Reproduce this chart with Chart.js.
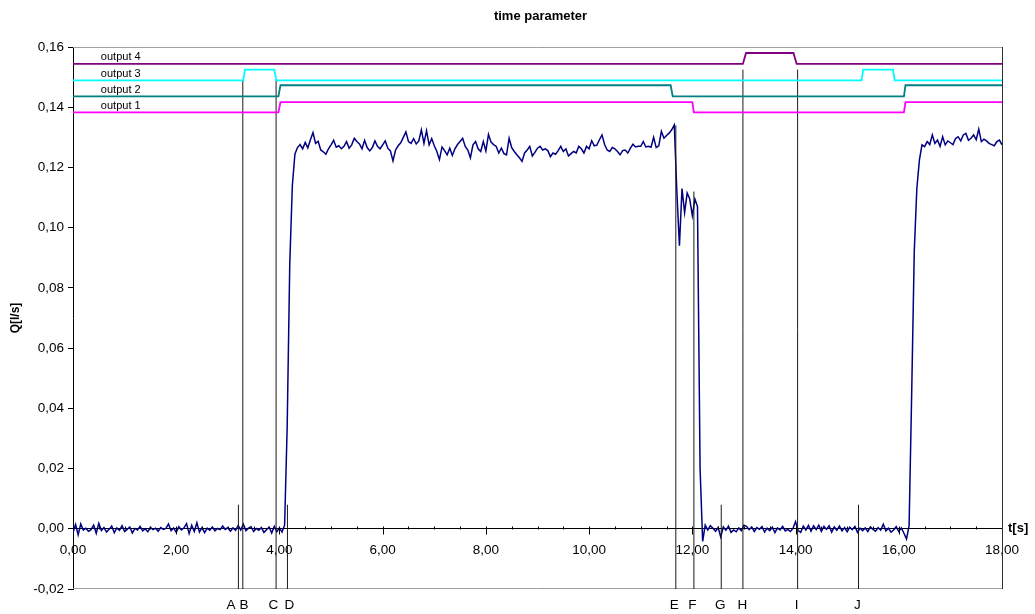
<!doctype html>
<html>

<head>
	<title>time parameter</title>
	<script src="https://cdn.jsdelivr.net/npm/chart.js@4/dist/chart.umd.min.js"></script>
	<style>
		html, body {
			margin: 0;
			padding: 0;
			background: #fff;
		}
		#holder {
			width: 1035px;
			height: 614px;
		}
	</style>
</head>

<body>
	<div id="holder">
		<canvas id="chart-area"></canvas>
	</div>
	<script>
		const FONT = '"Liberation Sans", Arial, sans-serif';

		// flow Q [l/s], sampled every DT seconds from 0 to 18 s
		const DT = 0.05;
		const qValues = [
			-0.0012, 0.0014, -0.0020, 0.0016, -0.0004, 0.0002, -0.0008, -0.0003, 0.0012, -0.0015, 0.0018, -0.0006, 0.0004, -0.0011, -0.0002, 0.0009, -0.0013, 0.0003, -0.0005, 0.0010,
			-0.0009, -0.0002, 0.0006, -0.0014, 0.0001, -0.0004, 0.0008, -0.0007, 0.0000, -0.0010, 0.0005, -0.0003, 0.0002, -0.0008, 0.0004, -0.0002, 0.0001, 0.0016, -0.0006, 0.0003,
			-0.0012, 0.0007, -0.0004, 0.0003, 0.0017, -0.0016, 0.0012, -0.0009, 0.0020, -0.0011, 0.0004, -0.0013, 0.0002, -0.0005, 0.0006, -0.0007, 0.0001, -0.0003, 0.0009, -0.0002,
			0.0004, -0.0008, 0.0003, -0.0005, 0.0011, -0.0004, 0.0015, -0.0006, 0.0002, 0.0007, -0.0009, 0.0001, -0.0005, 0.0004, -0.0012, -0.0003, 0.0006, -0.0014, 0.0008, -0.0010,
			0.0003, -0.0011, 0.0012, 0.0340, 0.0880, 0.1140, 0.1245, 0.1266, 0.1276, 0.1262, 0.1283, 0.1265, 0.1292, 0.1316, 0.1280, 0.1287, 0.1258, 0.1252, 0.1244, 0.1262,
			0.1275, 0.1290, 0.1267, 0.1272, 0.1262, 0.1270, 0.1286, 0.1264, 0.1275, 0.1297, 0.1286, 0.1278, 0.1262, 0.1290, 0.1266, 0.1255, 0.1266, 0.1288, 0.1270, 0.1262,
			0.1275, 0.1288, 0.1264, 0.1255, 0.1222, 0.1258, 0.1272, 0.1282, 0.1300, 0.1318, 0.1286, 0.1280, 0.1296, 0.1278, 0.1288, 0.1325, 0.1280, 0.1322, 0.1275, 0.1296,
			0.1272, 0.1253, 0.1226, 0.1268, 0.1256, 0.1242, 0.1264, 0.1240, 0.1262, 0.1276, 0.1286, 0.1297, 0.1270, 0.1258, 0.1232, 0.1275, 0.1286, 0.1262, 0.1253, 0.1286,
			0.1255, 0.1310, 0.1284, 0.1276, 0.1270, 0.1248, 0.1264, 0.1246, 0.1242, 0.1297, 0.1266, 0.1253, 0.1242, 0.1232, 0.1220, 0.1248, 0.1258, 0.1270, 0.1238, 0.1250,
			0.1264, 0.1270, 0.1258, 0.1262, 0.1256, 0.1236, 0.1248, 0.1244, 0.1256, 0.1270, 0.1253, 0.1262, 0.1238, 0.1246, 0.1253, 0.1248, 0.1270, 0.1262, 0.1248, 0.1270,
			0.1262, 0.1289, 0.1272, 0.1274, 0.1292, 0.1308, 0.1276, 0.1258, 0.1253, 0.1266, 0.1262, 0.1253, 0.1242, 0.1256, 0.1258, 0.1248, 0.1264, 0.1277, 0.1268, 0.1270,
			0.1270, 0.1286, 0.1268, 0.1270, 0.1267, 0.1300, 0.1266, 0.1272, 0.1320, 0.1297, 0.1306, 0.1314, 0.1325, 0.1341, 0.1120, 0.0940, 0.1130, 0.1050, 0.1115, 0.1095,
			0.1040, 0.1095, 0.1070, 0.0200, -0.0042, 0.0012, -0.0004, 0.0010, 0.0002, -0.0008, 0.0004, -0.0027, 0.0006, -0.0005, 0.0009, -0.0012, -0.0004, -0.0010, 0.0003, -0.0006,
			0.0012, 0.0008, -0.0003, 0.0006, -0.0009, 0.0004, -0.0002, 0.0007, -0.0011, 0.0002, -0.0006, 0.0005, -0.0013, 0.0003, -0.0004, 0.0008, -0.0007, -0.0002, -0.0009, 0.0001,
			0.0024, -0.0006, -0.0012, 0.0009, -0.0004, 0.0011, -0.0008, 0.0010, -0.0003, 0.0012, -0.0009, 0.0008, -0.0002, 0.0010, -0.0011, 0.0006, -0.0005, 0.0009, -0.0007, 0.0004,
			-0.0010, 0.0005, -0.0003, 0.0008, -0.0012, 0.0002, -0.0006, 0.0003, -0.0009, 0.0006, -0.0002, -0.0008, 0.0004, -0.0005, 0.0015, -0.0007, 0.0002, -0.0011, -0.0004, 0.0007,
			-0.0009, 0.0003, -0.0015, -0.0034, 0.0010, 0.0450, 0.0920, 0.1130, 0.1225, 0.1275, 0.1269, 0.1286, 0.1276, 0.1308, 0.1280, 0.1291, 0.1270, 0.1302, 0.1275, 0.1288,
			0.1282, 0.1276, 0.1296, 0.1302, 0.1288, 0.1308, 0.1313, 0.1290, 0.1297, 0.1308, 0.1292, 0.1327, 0.1286, 0.1294, 0.1288, 0.1280, 0.1276, 0.1272, 0.1286, 0.1291,
			0.1275
		];

		// digital outputs drawn as offset step traces (corner times / levels)
		const out1T = [0, 3.98, 4.02, 12.00, 12.03, 16.10, 16.13, 18];
		const out1V = [0.1383, 0.1383, 0.1417, 0.1417, 0.1383, 0.1383, 0.1417, 0.1417];
		const out2T = [0, 3.98, 4.02, 11.58, 11.62, 16.10, 16.13, 18];
		const out2V = [0.1436, 0.1436, 0.1473, 0.1473, 0.1436, 0.1436, 0.1473, 0.1473];
		const out3T = [0, 3.30, 3.33, 3.90, 3.94, 15.28, 15.31, 15.89, 15.92, 18];
		const out3V = [0.1489, 0.1489, 0.1525, 0.1525, 0.1489, 0.1489, 0.1525, 0.1525, 0.1489, 0.1489];
		const out4T = [0, 12.98, 13.04, 13.96, 14.02, 18];
		const out4V = [0.1544, 0.1544, 0.1580, 0.1580, 0.1544, 0.1544];
		const outNames = ['output 1', 'output 2', 'output 3', 'output 4'];
		const outColors = ['#ff00ff', '#008080', '#00ffff', '#800080'];

		// event markers A..J
		const markerNames = ['A', 'B', 'C', 'D', 'E', 'F', 'G', 'H', 'I', 'J'];
		const markerT = [3.205, 3.29, 3.935, 4.155, 11.68, 12.03, 12.56, 12.98, 14.04, 15.22];
		const markerTop = [0.008, 0.149, 0.149, 0.008, 0.134, 0.112, 0.008, 0.1525, 0.1525, 0.008];
		const markerLabelAt = [3.06, 3.315, 3.88, 4.19, 11.65, 12.0, 12.54, 12.97, 14.02, 15.2];

		const fmt = (v) => (Math.abs(v) < 1e-9 ? 0 : v).toFixed(2).replace('.', ',');

		const qData = qValues.map((v, i) => ({x: i * DT, y: v}));
		const outT = [out1T, out2T, out3T, out4T];
		const outV = [out1V, out2V, out3V, out4V];

		const markerData = [];
		markerT.forEach((t, i) => {
			markerData.push({x: t, y: -0.02}, {x: t, y: markerTop[i]}, {x: t, y: null});
		});

		const outputSets = outT.map((ts, i) => ({
			label: outNames[i],
			data: ts.map((t, j) => ({x: t, y: outV[i][j]})),
			borderColor: outColors[i],
			borderWidth: 1.8,
			pointRadius: 0,
			tension: 0
		}));

		const decor = {
			id: 'decor',
			beforeDatasetsDraw(chart) {
				const {ctx, chartArea: a} = chart;
				ctx.save();
				ctx.lineWidth = 1;
				ctx.strokeStyle = '#a0a0a0';
				ctx.beginPath();
				ctx.moveTo(a.left, a.top + 0.5);
				ctx.lineTo(a.right, a.top + 0.5);
				ctx.moveTo(a.left, a.bottom - 0.5);
				ctx.lineTo(a.right, a.bottom - 0.5);
				ctx.stroke();
				ctx.strokeStyle = '#303030';
				ctx.beginPath();
				ctx.moveTo(a.right + 0.5, a.top);
				ctx.lineTo(a.right + 0.5, a.bottom);
				ctx.stroke();
				ctx.restore();
			},
			afterDatasetsDraw(chart) {
				const {ctx, chartArea: a, scales: {x, y}} = chart;
				ctx.save();
				// x ticks on the zero line
				const y0 = Math.round(y.getPixelForValue(0)) + 0.5;
				ctx.strokeStyle = '#000';
				ctx.lineWidth = 1;
				ctx.beginPath();
				for (let k = 1; k < 36; k++) {
					const px = Math.round(x.getPixelForValue(k / 2)) + 0.5;
					ctx.moveTo(px, y0 - 3);
					ctx.lineTo(px, k % 4 === 0 ? y0 + 5 : y0);
				}
				ctx.stroke();

				// output names above their traces
				ctx.fillStyle = '#000';
				ctx.font = '11px ' + FONT;
				ctx.textAlign = 'left';
				ctx.textBaseline = 'alphabetic';
				outNames.forEach((n, i) => {
					ctx.fillText(n, x.getPixelForValue(0.54), y.getPixelForValue(outV[i][0]) - 3.5);
				});

				// title and x axis name
				ctx.font = 'bold 13px ' + FONT;
				ctx.textAlign = 'center';
				ctx.textBaseline = 'middle';
				ctx.fillText('time parameter', (a.left + a.right) / 2 + 3, 16);
				ctx.textAlign = 'left';
				ctx.textBaseline = 'alphabetic';
				ctx.fillText('t[s]', a.right + 6, y0 + 2);
				ctx.restore();
			}
		};

		const config = {
			type: 'line',
			data: {
				datasets: [
					...outputSets,
					{
						label: 'markers',
						data: markerData,
						borderColor: '#1a1a1a',
						borderWidth: 1,
						pointRadius: 0,
						spanGaps: false
					},
					{
						label: 'Q',
						data: qData,
						borderColor: '#000080',
						borderWidth: 1.5,
						pointRadius: 0,
						tension: 0
					}
				]
			},
			options: {
				responsive: true,
				maintainAspectRatio: false,
				animation: false,
				layout: {
					padding: {top: 47, right: 33, left: 0, bottom: 0}
				},
				plugins: {
					legend: {display: false},
					title: {display: false},
					tooltip: {enabled: false}
				},
				scales: {
					x: {
						type: 'linear',
						position: {y: 0},
						min: 0,
						max: 18,
						grid: {drawOnChartArea: false, drawTicks: false},
						border: {display: true, color: '#000', width: 1},
						ticks: {
							stepSize: 2,
							padding: 13,
							color: '#000',
							maxRotation: 0,
							font: {family: FONT, size: 13.5},
							callback: (v) => fmt(v)
						}
					},
					x2: {
						type: 'linear',
						position: 'bottom',
						min: 0,
						max: 18,
						grid: {display: false, drawTicks: false, tickLength: 0},
						border: {display: false},
						afterBuildTicks: (s) => {
							s.ticks = markerLabelAt.map((v) => ({value: v}));
						},
						afterFit: (s) => {
							s.height = 25;
						},
						ticks: {
							autoSkip: false,
							maxRotation: 0,
							padding: 8,
							color: '#000',
							font: {family: FONT, size: 13.5},
							callback: (v, i) => markerNames[i]
						}
					},
					y: {
						type: 'linear',
						position: 'left',
						min: -0.02,
						max: 0.16,
						afterFit: (s) => {
							s.width = 73;
						},
						grid: {drawOnChartArea: false, drawTicks: true, tickLength: 5, color: '#000'},
						border: {display: true, color: '#000', width: 1},
						title: {
							display: true,
							text: 'Q[l/s]',
							color: '#000',
							font: {family: FONT, size: 12, weight: 'bold'},
							padding: {top: 8, bottom: 4}
						},
						ticks: {
							stepSize: 0.02,
							padding: 4,
							color: '#000',
							font: {family: FONT, size: 13.5},
							callback: (v) => fmt(v)
						}
					}
				}
			},
			plugins: [decor]
		};

		window.onload = function() {
			const ctx = document.getElementById('chart-area');
			window.myChart = new Chart(ctx, config);
		};
	</script>
</body>

</html>
